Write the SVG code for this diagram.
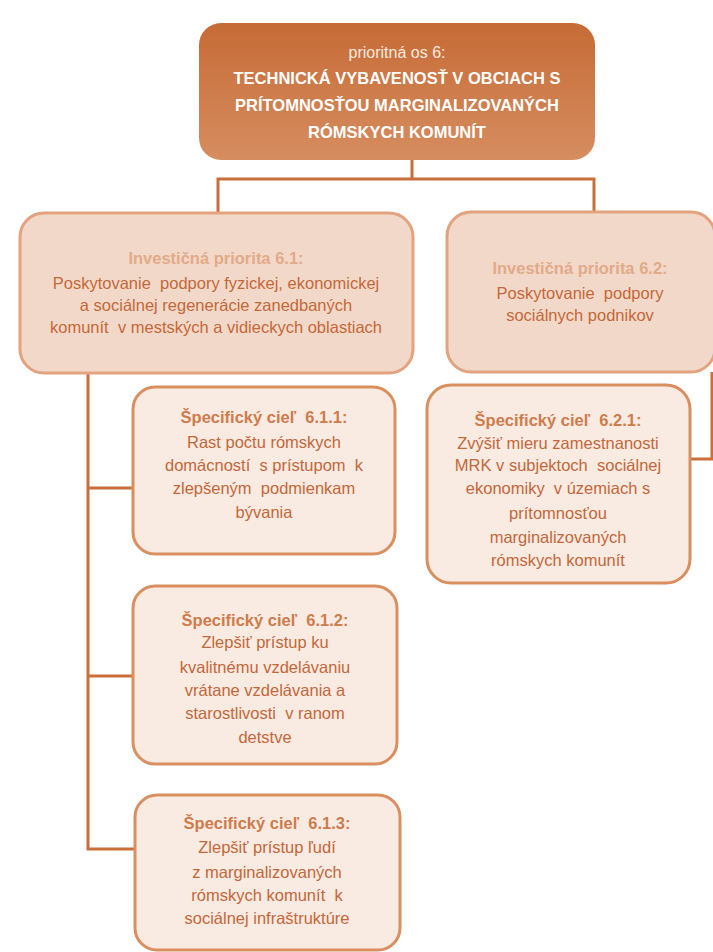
<svg xmlns="http://www.w3.org/2000/svg" width="713" height="952" viewBox="0 0 713 952">
<style>
text{font-family:"Liberation Sans",Arial,sans-serif;text-anchor:middle;font-size:16.5px;fill:#c4683a;white-space:pre}
.top text{fill:#fff}
.top .s{fill:#fbe9de;font-size:16px}
.top .h{font-weight:bold;font-size:16.5px}
.ip{fill:#f2d8c8;stroke:#e2a37e;stroke-width:3}
.sc{fill:#f9eae2;stroke:#d98f60;stroke-width:3}
.iph{font-weight:bold;fill:#e2aa88}
.sch{font-weight:bold;fill:#cf7c4c}
.conn line,.conn polyline{stroke:#c96f39;stroke-width:3;fill:none}
</style>
<defs>
<linearGradient id="g" x1="0" y1="0" x2="0" y2="1">
<stop offset="0" stop-color="#c66b36"/>
<stop offset="1" stop-color="#d68d60"/>
</linearGradient>
</defs>
<g class="conn">
<line x1="412" y1="160" x2="412" y2="179"/>
<polyline points="218,213 218,179 594,179 594,212"/>
<polyline points="88,372 88,849 135,849"/>
<line x1="88" y1="488" x2="133" y2="488"/>
<line x1="88" y1="676" x2="133" y2="676"/>
<polyline points="712,372 712,459 690,459"/>
</g>
<g id="top" class="top">
<rect x="199" y="23" width="396" height="137" rx="22" fill="url(#g)"/>
<text class="s" x="397" y="58">prioritná os 6:</text>
<text class="h" x="397" y="84">TECHNICKÁ VYBAVENOSŤ V OBCIACH S</text>
<text class="h" x="397" y="111">PRÍTOMNOSŤOU MARGINALIZOVANÝCH</text>
<text class="h" x="397" y="138">RÓMSKYCH KOMUNÍT</text>
</g>
<g id="ip61">
<rect class="ip" x="20" y="213" width="393" height="160" rx="24"/>
<text class="iph" x="216" y="264">Investičná priorita 6.1:</text>
<text x="216" y="289">Poskytovanie  podpory fyzickej, ekonomickej</text>
<text x="216" y="311">a sociálnej regenerácie zanedbaných</text>
<text x="216" y="333">komunít  v mestských a vidieckych oblastiach</text>
</g>
<g id="ip62">
<rect class="ip" x="447" y="212" width="268" height="160" rx="24"/>
<text class="iph" x="580" y="274">Investičná priorita 6.2:</text>
<text x="580" y="299">Poskytovanie  podpory</text>
<text x="580" y="321">sociálnych podnikov</text>
</g>
<g id="sc611">
<rect class="sc" x="133" y="387" width="262" height="167" rx="22"/>
<text class="sch" x="264" y="423">Špecifický cieľ  6.1.1:</text>
<text x="264" y="448">Rast počtu rómskych</text>
<text x="264" y="471">domácností  s prístupom  k</text>
<text x="264" y="494">zlepšeným  podmienkam</text>
<text x="264" y="518">bývania</text>
</g>
<g id="sc612">
<rect class="sc" x="133" y="586" width="264" height="178" rx="22"/>
<text class="sch" x="265" y="626">Špecifický cieľ  6.1.2:</text>
<text x="265" y="648">Zlepšiť prístup ku</text>
<text x="265" y="673">kvalitnému vzdelávaniu</text>
<text x="265" y="696">vrátane vzdelávania a</text>
<text x="265" y="719">starostlivosti  v ranom</text>
<text x="265" y="743">detstve</text>
</g>
<g id="sc613">
<rect class="sc" x="135" y="795" width="265" height="155" rx="22"/>
<text class="sch" x="267" y="829">Špecifický cieľ  6.1.3:</text>
<text x="267" y="853">Zlepšiť prístup ľudí</text>
<text x="267" y="878">z marginalizovaných</text>
<text x="267" y="901">rómskych komunít  k</text>
<text x="267" y="924">sociálnej infraštruktúre</text>
</g>
<g id="sc621">
<rect class="sc" x="427" y="385" width="263" height="198" rx="24"/>
<text class="sch" x="558" y="426">Špecifický cieľ  6.2.1:</text>
<text x="558" y="449">Zvýšiť mieru zamestnanosti</text>
<text x="558" y="471">MRK v subjektoch  sociálnej</text>
<text x="558" y="494">ekonomiky  v územiach s</text>
<text x="558" y="519">prítomnosťou</text>
<text x="558" y="543">marginalizovaných</text>
<text x="558" y="566">rómskych komunít</text>
</g>
</svg>
